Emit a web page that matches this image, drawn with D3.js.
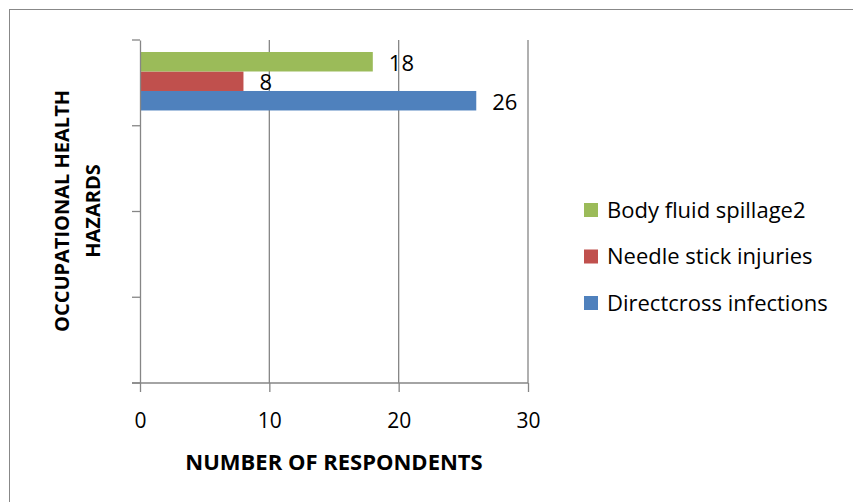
<!DOCTYPE html>
<html>

<head>
    <meta charset="utf-8">
    <script src="https://d3js.org/d3.v7.min.js"></script>
    <style>
        body { margin: 0; background: #fff; }
        text { font-family: 'Open Sans', sans-serif; fill: #000; }
    </style>
</head>

<body>
    <script>
        // data
        const categories = ['c1', 'c2', 'c3', 'c4'];
        const seriesNames = ['Directcross infections', 'Needle stick injuries', 'Body fluid spillage2'];
        const seriesColors = ['#4f81bd', '#c0504d', '#9bbb59'];
        const directcross = [26, null, null, null];
        const needleStick = [8, null, null, null];
        const bodyFluid = [18, null, null, null];
        const xTicks = [0, 10, 20, 30];

        const seriesValues = [directcross, needleStick, bodyFluid];

        const msm = { width: 853, height: 502 };
        const plot = { left: 140, right: 528, top: 40, bottom: 383 };

        let svg = d3.select('body')
            .append('svg')
            .attr('width', msm.width)
            .attr('height', msm.height);

        // chart border
        svg.append('rect')
            .attr('x', 9.5).attr('y', 9.5)
            .attr('width', 860).attr('height', 520)
            .attr('fill', 'none')
            .attr('stroke', '#888');

        let x = d3.scaleLinear()
            .domain([0, 30])
            .range([plot.left, plot.right]);

        let y = d3.scaleBand()
            .domain(categories)
            .range([plot.top, plot.bottom]);

        // series in a band: top to bottom green, red, blue
        let inner = d3.scaleBand()
            .domain(seriesNames.slice().reverse())
            .range([0, y.bandwidth()])
            .paddingOuter(0.7)
            .paddingInner(0)
            .align(0.44);

        // vertical gridlines
        svg.append('g')
            .selectAll('line')
            .data(xTicks.slice(1))
            .enter()
            .append('line')
            .attr('x1', d => x(d)).attr('x2', d => x(d))
            .attr('y1', plot.top).attr('y2', plot.bottom)
            .attr('stroke', '#868686')
            .attr('stroke-width', 1.3);

        // bars
        let bars = svg.append('g');
        seriesNames.forEach((name, s) => {
            let rows = categories.map((c, i) => ({ c: c, v: seriesValues[s][i] }))
                .filter(d => d.v != null);
            bars.selectAll('rect.s' + s)
                .data(rows)
                .enter()
                .append('rect')
                .attr('class', 's' + s)
                .attr('x', x(0))
                .attr('y', d => y(d.c) + inner(name))
                .attr('width', d => x(d.v) - x(0))
                .attr('height', inner.bandwidth())
                .attr('fill', seriesColors[s]);

            bars.selectAll('text.s' + s)
                .data(rows)
                .enter()
                .append('text')
                .attr('class', 's' + s)
                .attr('x', d => x(d.v) + 16)
                .attr('y', d => y(d.c) + inner(name) + inner.bandwidth() / 2 + 1)
                .attr('dy', '0.36em')
                .attr('font-size', 22)
                .text(d => d.v);
        });

        // x axis
        let xAxis = svg.append('g')
            .attr('transform', `translate(0,${plot.bottom})`)
            .call(d3.axisBottom(x).tickValues(xTicks).tickSize(9).tickSizeOuter(0));
        xAxis.select('.domain').remove();
        xAxis.append('line')
            .attr('x1', plot.left - 8).attr('x2', plot.right)
            .attr('stroke', '#868686').attr('stroke-width', 1.3);
        xAxis.selectAll('.tick line').attr('stroke', '#868686').attr('stroke-width', 1.3);
        xAxis.selectAll('.tick text')
            .attr('y', 37)
            .attr('dy', '0.36em')
            .attr('font-size', 21)
            .attr('font-family', "'Open Sans', sans-serif")
            .attr('fill', '#000');

        // y axis (no labels)
        let yAxis = svg.append('g')
            .attr('transform', `translate(${plot.left},0)`)
            .call(d3.axisLeft(y).tickValues([]).tickSizeOuter(0));
        yAxis.select('.domain')
            .attr('stroke', '#868686').attr('stroke-width', 1.3);
        yAxis.selectAll('line.cat')
            .data(categories.map(c => y(c)).concat([plot.bottom]))
            .enter()
            .append('line')
            .attr('class', 'cat')
            .attr('x1', -8).attr('x2', 0)
            .attr('y1', d => d).attr('y2', d => d)
            .attr('stroke', '#868686').attr('stroke-width', 1.3);

        // axis titles
        svg.append('text')
            .attr('x', 334)
            .attr('y', 462)
            .attr('dy', '0.36em')
            .attr('text-anchor', 'middle')
            .attr('font-weight', 'bold')
            .attr('font-size', 22)
            .text('NUMBER OF RESPONDENTS');

        let yTitle = svg.append('text')
            .attr('transform', 'translate(62,211) rotate(-90)')
            .attr('text-anchor', 'middle')
            .attr('font-weight', 'bold')
            .attr('font-size', 20);
        yTitle.append('tspan').attr('x', 0).attr('dy', '0.36em').text('OCCUPATIONAL HEALTH');
        yTitle.append('tspan').attr('x', 0).attr('dy', 31).text('HAZARDS');

        // legend
        let legend = svg.append('g')
            .selectAll('g')
            .data(seriesNames.slice().reverse())
            .enter()
            .append('g')
            .attr('transform', (d, i) => `translate(584,${210 + i * 46.5})`);
        legend.append('rect')
            .attr('x', 0).attr('y', -7)
            .attr('width', 14).attr('height', 14)
            .attr('fill', d => seriesColors[seriesNames.indexOf(d)]);
        legend.append('text')
            .attr('x', 23)
            .attr('dy', '0.36em')
            .attr('font-size', 22)
            .text(d => d);
    </script>
</body>
</html>
